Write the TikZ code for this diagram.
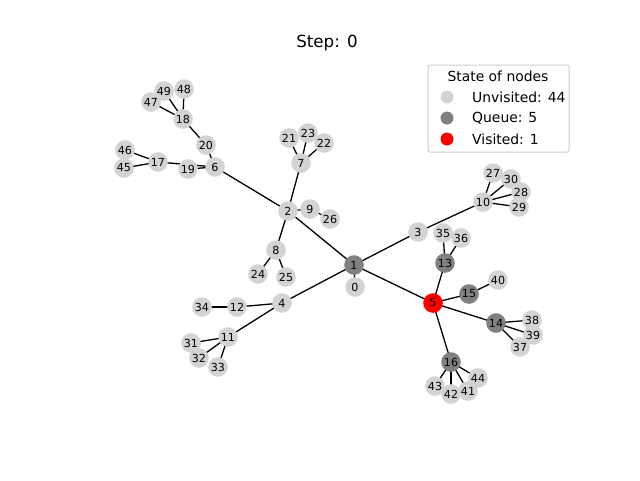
\documentclass[tikz,border=0pt]{standalone}
\usepackage{fontspec}
\setmainfont{DejaVu Sans}
\usetikzlibrary{backgrounds}
\begin{document}
\begin{tikzpicture}[x=1pt,y=-1pt,
  nd/.style={circle,minimum size=19.6pt,inner sep=0pt,font=\fontsize{11.1}{12}\selectfont},
  unv/.style={nd,fill={rgb,255:red,211;green,211;blue,211}},
  que/.style={nd,fill={rgb,255:red,128;green,128;blue,128}},
  vis/.style={nd,fill=red},
  edge/.style={line width=1.3pt,black},
  lgm/.style={circle,minimum size=13pt,inner sep=0pt}]
\useasboundingbox (0,0) rectangle (640,480);
\node[font=\fontsize{16.7}{18}\selectfont] (title) at (327,43) {Step: 0};
% nodes
\node[unv] (n0) at (355,287) {0};
\node[que] (n1) at (354,265) {1};
\node[unv] (n2) at (288,211) {2};
\node[unv] (n3) at (418,232) {3};
\node[unv] (n4) at (282,303) {4};
\node[vis] (n5) at (433,303) {5};
\node[unv] (n6) at (215,167) {6};
\node[unv] (n7) at (301,163) {7};
\node[unv] (n8) at (276,250) {8};
\node[unv] (n9) at (310,209) {9};
\node[unv] (n10) at (483,202) {10};
\node[unv] (n11) at (228,337) {11};
\node[unv] (n12) at (237,307) {12};
\node[que] (n13) at (445,263) {13};
\node[que] (n14) at (496,323) {14};
\node[que] (n15) at (469,294) {15};
\node[que] (n16) at (451,362) {16};
\node[unv] (n17) at (158,162) {17};
\node[unv] (n18) at (183,119) {18};
\node[unv] (n19) at (188,169) {19};
\node[unv] (n20) at (206,145) {20};
\node[unv] (n21) at (289,138) {21};
\node[unv] (n22) at (324,143) {22};
\node[unv] (n23) at (308,133) {23};
\node[unv] (n24) at (258,274) {24};
\node[unv] (n25) at (286,277) {25};
\node[unv] (n26) at (330,219) {26};
\node[unv] (n27) at (493,173) {27};
\node[unv] (n28) at (521,192) {28};
\node[unv] (n29) at (519,207) {29};
\node[unv] (n30) at (511,179) {30};
\node[unv] (n31) at (191,343) {31};
\node[unv] (n32) at (199,358) {32};
\node[unv] (n33) at (218,367) {33};
\node[unv] (n34) at (202,307) {34};
\node[unv] (n35) at (443,233) {35};
\node[unv] (n36) at (461,238) {36};
\node[unv] (n37) at (520,347) {37};
\node[unv] (n38) at (532,320) {38};
\node[unv] (n39) at (533,335) {39};
\node[unv] (n40) at (498,280) {40};
\node[unv] (n41) at (468,391) {41};
\node[unv] (n42) at (451,394) {42};
\node[unv] (n43) at (435,386) {43};
\node[unv] (n44) at (478,378) {44};
\node[unv] (n45) at (124,168) {45};
\node[unv] (n46) at (125,150) {46};
\node[unv] (n47) at (151,102) {47};
\node[unv] (n48) at (184,89) {48};
\node[unv] (n49) at (164,91) {49};
% edges (behind nodes)
\begin{pgfonlayer}{background}
\foreach \a/\b in {1/0,1/2,1/3,1/4,1/5,2/7,2/8,2/9,2/6,7/21,7/22,7/23,9/26,8/24,8/25,
  6/20,6/19,6/17,20/18,18/47,18/48,18/49,17/45,17/46,3/10,10/27,10/28,10/29,10/30,
  4/12,4/11,12/34,11/31,11/32,11/33,5/13,5/15,5/14,5/16,13/35,13/36,15/40,
  14/37,14/38,14/39,16/41,16/42,16/43,16/44}
  \draw[edge] (n\a.center) -- (n\b.center);
\end{pgfonlayer}
% legend
\draw[rounded corners=2pt,draw={rgb,255:red,204;green,204;blue,204},fill=white,line width=1pt]
  (428,65) rectangle (569,152);
\node[font=\fontsize{13.9}{15}\selectfont] (lt) at (498,76) {State of nodes};
\node[lgm,fill={rgb,255:red,211;green,211;blue,211}] (m1) at (447,97) {};
\node[lgm,fill={rgb,255:red,128;green,128;blue,128}] (m2) at (447,118) {};
\node[lgm,fill=red] (m3) at (447,139) {};
\node[anchor=west,font=\fontsize{13.9}{15}\selectfont,inner sep=0pt] (l1) at (472,97) {Unvisited: 44};
\node[anchor=west,font=\fontsize{13.9}{15}\selectfont,inner sep=0pt] (l2) at (472,118) {Queue: 5};
\node[anchor=west,font=\fontsize{13.9}{15}\selectfont,inner sep=0pt] (l3) at (472,139) {Visited: 1};
\end{tikzpicture}
\end{document}
